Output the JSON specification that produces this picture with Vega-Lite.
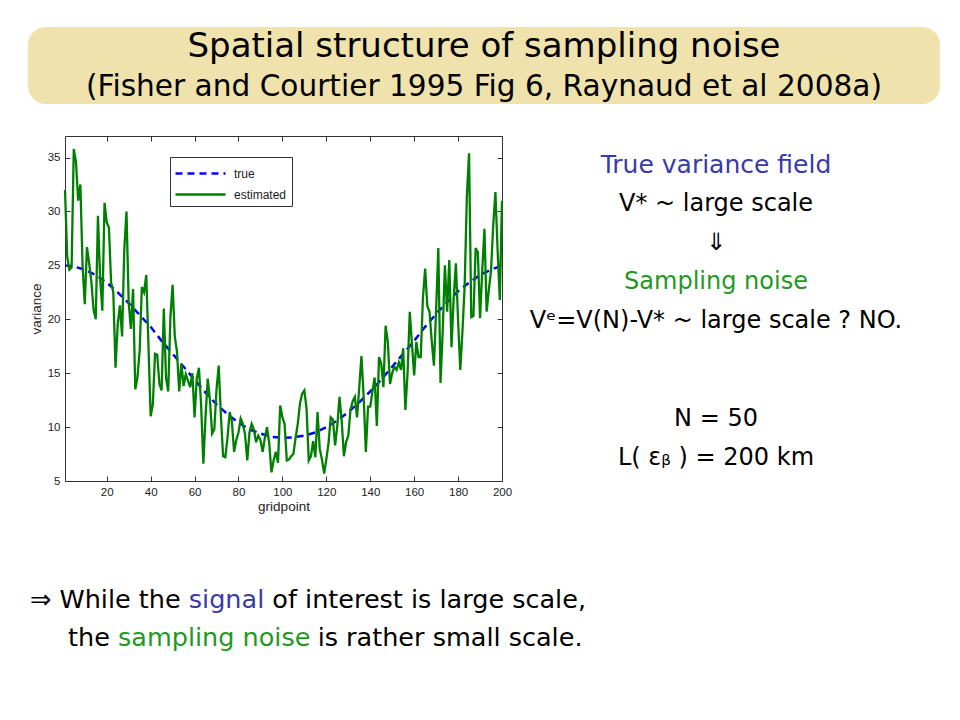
{
  "$schema": "https://vega.github.io/schema/vega-lite/v6.json",
  "background": "white",
  "padding": {"left": 28, "top": 27, "right": 0, "bottom": 0},
  "spacing": 31,
  "center": true,
  "config": {"view": {"stroke": null}},
  "resolve": {"scale": {"color": "independent", "strokeDash": "independent"}, "legend": {"color": "independent", "strokeDash": "independent"}},
  "datasets": {
    "tru": [
      {"g":1,"v":25.0,"s":"true"},{"g":5,"v":24.9,"s":"true"},{"g":10,"v":24.6,"s":"true"},{"g":15,"v":24.1,"s":"true"},
      {"g":20,"v":23.4,"s":"true"},{"g":25,"v":22.5,"s":"true"},{"g":30,"v":21.5,"s":"true"},{"g":35,"v":20.4,"s":"true"},
      {"g":40,"v":19.3,"s":"true"},{"g":45,"v":18.0,"s":"true"},{"g":50,"v":16.8,"s":"true"},{"g":55,"v":15.6,"s":"true"},
      {"g":60,"v":14.4,"s":"true"},{"g":65,"v":13.2,"s":"true"},{"g":70,"v":12.1,"s":"true"},{"g":75,"v":11.2,"s":"true"},
      {"g":80,"v":10.4,"s":"true"},{"g":85,"v":9.8,"s":"true"},{"g":90,"v":9.4,"s":"true"},{"g":95,"v":9.1,"s":"true"},
      {"g":100,"v":9.0,"s":"true"},{"g":105,"v":9.05,"s":"true"},{"g":110,"v":9.2,"s":"true"},{"g":115,"v":9.5,"s":"true"},
      {"g":120,"v":10.0,"s":"true"},{"g":125,"v":10.6,"s":"true"},{"g":130,"v":11.4,"s":"true"},{"g":135,"v":12.3,"s":"true"},
      {"g":140,"v":13.3,"s":"true"},{"g":145,"v":14.4,"s":"true"},{"g":150,"v":15.6,"s":"true"},{"g":155,"v":16.8,"s":"true"},
      {"g":160,"v":18.0,"s":"true"},{"g":165,"v":19.3,"s":"true"},{"g":170,"v":20.5,"s":"true"},{"g":175,"v":21.6,"s":"true"},
      {"g":180,"v":22.6,"s":"true"},{"g":185,"v":23.4,"s":"true"},{"g":190,"v":24.1,"s":"true"},{"g":195,"v":24.6,"s":"true"},
      {"g":200,"v":25.0,"s":"true"}
    ],
    "est": [
      {"g":1,"v":32.0,"s":"estimated"},{"g":2,"v":25.8,"s":"estimated"},{"g":3,"v":24.6,"s":"estimated"},{"g":4,"v":24.8,"s":"estimated"},{"g":5,"v":35.8,"s":"estimated"},
      {"g":6,"v":34.6,"s":"estimated"},{"g":7,"v":31.0,"s":"estimated"},{"g":8,"v":32.5,"s":"estimated"},{"g":9,"v":25.0,"s":"estimated"},{"g":10,"v":21.4,"s":"estimated"},
      {"g":11,"v":26.7,"s":"estimated"},{"g":12,"v":25.2,"s":"estimated"},{"g":13,"v":23.5,"s":"estimated"},{"g":14,"v":20.9,"s":"estimated"},{"g":15,"v":20.0,"s":"estimated"},
      {"g":16,"v":29.6,"s":"estimated"},{"g":17,"v":23.8,"s":"estimated"},{"g":18,"v":20.8,"s":"estimated"},{"g":19,"v":30.8,"s":"estimated"},{"g":20,"v":29.0,"s":"estimated"},
      {"g":21,"v":28.5,"s":"estimated"},{"g":22,"v":23.4,"s":"estimated"},{"g":23,"v":22.5,"s":"estimated"},{"g":24,"v":15.5,"s":"estimated"},{"g":25,"v":19.5,"s":"estimated"},
      {"g":26,"v":21.3,"s":"estimated"},{"g":27,"v":18.4,"s":"estimated"},{"g":28,"v":26.5,"s":"estimated"},{"g":29,"v":30.0,"s":"estimated"},{"g":30,"v":21.6,"s":"estimated"},
      {"g":31,"v":19.1,"s":"estimated"},{"g":32,"v":22.8,"s":"estimated"},{"g":33,"v":13.5,"s":"estimated"},{"g":34,"v":14.6,"s":"estimated"},{"g":35,"v":17.1,"s":"estimated"},
      {"g":36,"v":23.0,"s":"estimated"},{"g":37,"v":22.5,"s":"estimated"},{"g":38,"v":24.1,"s":"estimated"},{"g":39,"v":17.6,"s":"estimated"},{"g":40,"v":11.0,"s":"estimated"},
      {"g":41,"v":12.1,"s":"estimated"},{"g":42,"v":16.8,"s":"estimated"},{"g":43,"v":16.7,"s":"estimated"},{"g":44,"v":14.0,"s":"estimated"},{"g":45,"v":13.4,"s":"estimated"},
      {"g":46,"v":21.0,"s":"estimated"},{"g":47,"v":14.6,"s":"estimated"},{"g":48,"v":13.3,"s":"estimated"},{"g":49,"v":20.2,"s":"estimated"},{"g":50,"v":23.2,"s":"estimated"},
      {"g":51,"v":18.4,"s":"estimated"},{"g":52,"v":17.0,"s":"estimated"},{"g":53,"v":13.3,"s":"estimated"},{"g":54,"v":15.9,"s":"estimated"},{"g":55,"v":13.8,"s":"estimated"},
      {"g":56,"v":14.9,"s":"estimated"},{"g":57,"v":14.3,"s":"estimated"},{"g":58,"v":13.7,"s":"estimated"},{"g":59,"v":15.0,"s":"estimated"},{"g":60,"v":10.9,"s":"estimated"},
      {"g":61,"v":14.5,"s":"estimated"},{"g":62,"v":15.5,"s":"estimated"},{"g":63,"v":12.0,"s":"estimated"},{"g":64,"v":6.6,"s":"estimated"},{"g":65,"v":11.0,"s":"estimated"},
      {"g":66,"v":14.5,"s":"estimated"},{"g":67,"v":12.5,"s":"estimated"},{"g":68,"v":9.4,"s":"estimated"},{"g":69,"v":9.8,"s":"estimated"},{"g":70,"v":13.5,"s":"estimated"},
      {"g":71,"v":15.7,"s":"estimated"},{"g":72,"v":11.0,"s":"estimated"},{"g":73,"v":7.3,"s":"estimated"},{"g":74,"v":7.2,"s":"estimated"},{"g":75,"v":9.0,"s":"estimated"},
      {"g":76,"v":11.4,"s":"estimated"},{"g":77,"v":10.5,"s":"estimated"},{"g":78,"v":7.7,"s":"estimated"},{"g":79,"v":8.8,"s":"estimated"},{"g":80,"v":9.5,"s":"estimated"},
      {"g":81,"v":10.8,"s":"estimated"},{"g":82,"v":10.3,"s":"estimated"},{"g":83,"v":9.3,"s":"estimated"},{"g":84,"v":6.9,"s":"estimated"},{"g":85,"v":9.5,"s":"estimated"},
      {"g":86,"v":10.3,"s":"estimated"},{"g":87,"v":9.8,"s":"estimated"},{"g":88,"v":8.6,"s":"estimated"},{"g":89,"v":9.2,"s":"estimated"},{"g":90,"v":8.8,"s":"estimated"},
      {"g":91,"v":7.7,"s":"estimated"},{"g":92,"v":9.0,"s":"estimated"},{"g":93,"v":10.0,"s":"estimated"},{"g":94,"v":8.5,"s":"estimated"},{"g":95,"v":5.8,"s":"estimated"},
      {"g":96,"v":6.9,"s":"estimated"},{"g":97,"v":7.7,"s":"estimated"},{"g":98,"v":6.7,"s":"estimated"},{"g":99,"v":12.0,"s":"estimated"},{"g":100,"v":10.9,"s":"estimated"},
      {"g":101,"v":10.3,"s":"estimated"},{"g":102,"v":6.9,"s":"estimated"},{"g":103,"v":7.0,"s":"estimated"},{"g":104,"v":7.3,"s":"estimated"},{"g":105,"v":7.5,"s":"estimated"},
      {"g":106,"v":9.0,"s":"estimated"},{"g":107,"v":10.3,"s":"estimated"},{"g":108,"v":12.2,"s":"estimated"},{"g":109,"v":13.1,"s":"estimated"},{"g":110,"v":13.4,"s":"estimated"},
      {"g":111,"v":11.7,"s":"estimated"},{"g":112,"v":6.9,"s":"estimated"},{"g":113,"v":7.3,"s":"estimated"},{"g":114,"v":8.7,"s":"estimated"},{"g":115,"v":7.2,"s":"estimated"},
      {"g":116,"v":11.4,"s":"estimated"},{"g":117,"v":8.0,"s":"estimated"},{"g":118,"v":7.0,"s":"estimated"},{"g":119,"v":5.7,"s":"estimated"},{"g":120,"v":7.0,"s":"estimated"},
      {"g":121,"v":8.5,"s":"estimated"},{"g":122,"v":10.9,"s":"estimated"},{"g":123,"v":10.7,"s":"estimated"},{"g":124,"v":8.3,"s":"estimated"},{"g":125,"v":10.1,"s":"estimated"},
      {"g":126,"v":12.8,"s":"estimated"},{"g":127,"v":10.6,"s":"estimated"},{"g":128,"v":7.3,"s":"estimated"},{"g":129,"v":8.6,"s":"estimated"},{"g":130,"v":9.2,"s":"estimated"},
      {"g":131,"v":11.6,"s":"estimated"},{"g":132,"v":12.4,"s":"estimated"},{"g":133,"v":12.8,"s":"estimated"},{"g":134,"v":10.9,"s":"estimated"},{"g":135,"v":13.7,"s":"estimated"},
      {"g":136,"v":16.6,"s":"estimated"},{"g":137,"v":12.8,"s":"estimated"},{"g":138,"v":7.7,"s":"estimated"},{"g":139,"v":11.9,"s":"estimated"},{"g":140,"v":11.9,"s":"estimated"},
      {"g":141,"v":13.3,"s":"estimated"},{"g":142,"v":14.6,"s":"estimated"},{"g":143,"v":10.1,"s":"estimated"},{"g":144,"v":16.5,"s":"estimated"},{"g":145,"v":15.9,"s":"estimated"},
      {"g":146,"v":13.7,"s":"estimated"},{"g":147,"v":19.4,"s":"estimated"},{"g":148,"v":17.9,"s":"estimated"},{"g":149,"v":14.0,"s":"estimated"},{"g":150,"v":15.0,"s":"estimated"},
      {"g":151,"v":15.6,"s":"estimated"},{"g":152,"v":15.3,"s":"estimated"},{"g":153,"v":16.0,"s":"estimated"},{"g":154,"v":15.3,"s":"estimated"},{"g":155,"v":17.3,"s":"estimated"},
      {"g":156,"v":11.6,"s":"estimated"},{"g":157,"v":15.0,"s":"estimated"},{"g":158,"v":20.7,"s":"estimated"},{"g":159,"v":17.7,"s":"estimated"},{"g":160,"v":14.8,"s":"estimated"},
      {"g":161,"v":17.9,"s":"estimated"},{"g":162,"v":16.5,"s":"estimated"},{"g":163,"v":16.5,"s":"estimated"},{"g":164,"v":22.0,"s":"estimated"},{"g":165,"v":24.7,"s":"estimated"},
      {"g":166,"v":21.2,"s":"estimated"},{"g":167,"v":20.7,"s":"estimated"},{"g":168,"v":18.0,"s":"estimated"},{"g":169,"v":15.7,"s":"estimated"},{"g":170,"v":20.9,"s":"estimated"},
      {"g":171,"v":26.6,"s":"estimated"},{"g":172,"v":14.1,"s":"estimated"},{"g":173,"v":18.9,"s":"estimated"},{"g":174,"v":25.0,"s":"estimated"},{"g":175,"v":20.7,"s":"estimated"},
      {"g":176,"v":25.5,"s":"estimated"},{"g":177,"v":17.4,"s":"estimated"},{"g":178,"v":22.0,"s":"estimated"},{"g":179,"v":25.2,"s":"estimated"},{"g":180,"v":19.9,"s":"estimated"},
      {"g":181,"v":15.3,"s":"estimated"},{"g":182,"v":18.9,"s":"estimated"},{"g":183,"v":23.1,"s":"estimated"},{"g":184,"v":31.4,"s":"estimated"},{"g":185,"v":35.4,"s":"estimated"},
      {"g":186,"v":20.2,"s":"estimated"},{"g":187,"v":20.3,"s":"estimated"},{"g":188,"v":26.6,"s":"estimated"},{"g":189,"v":26.2,"s":"estimated"},{"g":190,"v":20.1,"s":"estimated"},
      {"g":191,"v":24.5,"s":"estimated"},{"g":192,"v":28.4,"s":"estimated"},{"g":193,"v":20.7,"s":"estimated"},{"g":194,"v":22.7,"s":"estimated"},{"g":195,"v":24.5,"s":"estimated"},
      {"g":196,"v":28.7,"s":"estimated"},{"g":197,"v":31.8,"s":"estimated"},{"g":198,"v":26.4,"s":"estimated"},{"g":199,"v":21.8,"s":"estimated"},{"g":200,"v":31.0,"s":"estimated"}
    ]
  },
  "vconcat": [
    {
      "width": 912,
      "height": 77,
      "view": {"fill": "#efe2ad", "stroke": null, "cornerRadius": 18},
      "data": {"values": [
        {"line": 0, "text": "Spatial structure of sampling noise", "kind": "main"},
        {"line": 1, "text": "(Fisher and Courtier 1995 Fig 6, Raynaud et al 2008a)", "kind": "sub"}
      ]},
      "mark": {"type": "text", "font": "DejaVu Sans", "baseline": "middle", "align": "center", "color": "#000000"},
      "encoding": {
        "y": {"field": "line", "type": "quantitative", "scale": {"domain": [0, 1], "range": [20, 60]}, "axis": null},
        "text": {"field": "text"},
        "size": {"field": "kind", "type": "nominal", "scale": {"domain": ["main", "sub"], "range": [34, 29.6]}, "legend": null}
      }
    },
    {
      "spacing": 16,
      "resolve": {"scale": {"color": "independent", "strokeDash": "independent"}, "legend": {"color": "independent", "strokeDash": "independent"}},
      "hconcat": [
        {
          "width": 437,
          "height": 345,
          "view": {"stroke": "#333333", "strokeWidth": 1},
          "layer": [
            {
              "data": {"name": "tru"},
              "mark": {"type": "line", "strokeWidth": 2.5},
              "encoding": {
                "x": {"field": "g", "type": "quantitative",
                      "scale": {"domain": [1, 200], "nice": false, "zero": false},
                      "axis": {"orient": "bottom", "values": [20,40,60,80,100,120,140,160,180,200], "grid": false, "domain": false,
                               "tickSize": -5, "tickColor": "#333333", "labelPadding": 10, "labelFlush": false,
                               "labelFont": "Liberation Sans", "labelFontSize": 11.5, "labelColor": "#222222",
                               "title": "gridpoint", "titleFont": "Liberation Sans", "titleFontSize": 13.5, "titleFontWeight": "normal", "titleColor": "#222222", "titlePadding": 2}},
                "y": {"field": "v", "type": "quantitative",
                      "scale": {"domain": [5, 37], "nice": false, "zero": false},
                      "axis": {"orient": "left", "values": [5,10,15,20,25,30,35], "grid": false, "domain": false,
                               "tickSize": -5, "tickColor": "#333333", "labelPadding": 10,
                               "labelFont": "Liberation Sans", "labelFontSize": 11.5, "labelColor": "#222222",
                               "title": "variance", "titleFont": "Liberation Sans", "titleFontSize": 13.5, "titleFontWeight": "normal", "titleColor": "#222222", "titlePadding": 4}},
                "color": {"field": "s", "type": "nominal",
                          "scale": {"domain": ["true", "estimated"], "range": ["#0000ff", "#008000"]},
                          "legend": {"title": null, "orient": "none", "legendX": 105, "legendY": 21,
                                     "fillColor": "white", "strokeColor": "#333333", "padding": 5,
                                     "symbolType": "M-2.5,0H2.5", "symbolSize": 400, "symbolStrokeWidth": 2.5, "symbolOffset": 14,
                                     "labelOffset": 22, "rowPadding": 3,
                                     "labelFont": "Liberation Sans", "labelFontSize": 12, "labelColor": "#222222"}},
                "strokeDash": {"field": "s", "type": "nominal",
                               "scale": {"domain": ["true", "estimated"], "range": [[7, 5], [1, 0]]},
                               "legend": {"title": null, "orient": "none", "legendX": 105, "legendY": 21,
                                     "fillColor": "white", "strokeColor": "#333333", "padding": 5,
                                     "symbolType": "M-2.5,0H2.5", "symbolSize": 400, "symbolStrokeWidth": 2.5, "symbolOffset": 14,
                                     "labelOffset": 22, "rowPadding": 3,
                                     "labelFont": "Liberation Sans", "labelFontSize": 12, "labelColor": "#222222"}}
              }
            },
            {
              "data": {"name": "est"},
              "mark": {"type": "line", "strokeWidth": 2.3},
              "encoding": {
                "x": {"field": "g", "type": "quantitative",
                      "scale": {"domain": [1, 200], "nice": false, "zero": false},
                      "axis": {"orient": "top", "values": [20,40,60,80,100,120,140,160,180,200], "grid": false, "domain": false,
                               "tickSize": -5, "tickColor": "#333333", "labels": false, "title": null}},
                "y": {"field": "v", "type": "quantitative",
                      "scale": {"domain": [5, 37], "nice": false, "zero": false},
                      "axis": {"orient": "right", "values": [5,10,15,20,25,30,35], "grid": false, "domain": false,
                               "tickSize": -5, "tickColor": "#333333", "labels": false, "title": null}},
                "color": {"field": "s", "type": "nominal",
                          "scale": {"domain": ["true", "estimated"], "range": ["#0000ff", "#008000"]}},
                "strokeDash": {"field": "s", "type": "nominal",
                               "scale": {"domain": ["true", "estimated"], "range": [[7, 5], [1, 0]]}}
              }
            }
          ],
          "resolve": {"axis": {"x": "independent", "y": "independent"}}
        },
        {
          "width": 374,
          "height": 345,
          "data": {"values": [
            {"line": 0, "text": "True variance field", "tone": "blue"},
            {"line": 1, "text": "V* ~ large scale", "tone": "black"},
            {"line": 2, "text": "⇓", "tone": "black"},
            {"line": 3, "text": "Sampling noise", "tone": "green"},
            {"line": 4, "text": "Vᵉ=V(N)-V* ~ large scale ? NO.", "tone": "black"},
            {"line": 6.5, "text": "N = 50", "tone": "black"},
            {"line": 7.5, "text": "L( εᵦ ) = 200 km", "tone": "black"}
          ]},
          "encoding": {
            "y": {"field": "line", "type": "quantitative", "scale": {"domain": [0, 4], "range": [29, 185]}, "axis": null},
            "text": {"field": "text"}
          },
          "layer": [
            {"transform": [{"filter": "datum.tone === 'black'"}],
             "mark": {"type": "text", "font": "DejaVu Sans", "fontSize": 24, "baseline": "middle", "align": "center", "color": "#000000"}},
            {"transform": [{"filter": "datum.tone === 'blue'"}],
             "mark": {"type": "text", "font": "DejaVu Sans", "fontSize": 25, "baseline": "middle", "align": "center", "color": "#3a3aa8"}},
            {"transform": [{"filter": "datum.tone === 'green'"}],
             "mark": {"type": "text", "font": "DejaVu Sans", "fontSize": 24, "baseline": "middle", "align": "center", "color": "#1f991f"}}
          ]
        }
      ]
    },
    {
      "width": 912,
      "height": 110,
      "data": {"values": [
        {"line": 1, "text": "⇒ While the", "part": "head", "tone": "black"},
        {"line": 1, "text": "signal", "part": "word", "tone": "blue"},
        {"line": 1, "text": "of interest is large scale,", "part": "tail", "tone": "black"},
        {"line": 2, "text": "the", "part": "head", "tone": "black"},
        {"line": 2, "text": "sampling noise", "part": "word", "tone": "green"},
        {"line": 2, "text": "is rather small scale.", "part": "tail", "tone": "black"}
      ]},
      "encoding": {
        "y": {"field": "line", "type": "quantitative", "scale": {"domain": [1, 2], "range": [55, 93]}, "axis": null},
        "text": {"field": "text"}
      },
      "layer": [
        {"transform": [{"filter": "datum.part === 'head'"}],
         "mark": {"type": "text", "font": "DejaVu Sans", "fontSize": 25.5, "baseline": "middle", "align": "left", "color": "#000000"},
         "encoding": {"x": {"field": "line", "type": "quantitative", "scale": {"domain": [1, 2], "range": [2, 40]}, "axis": null}}},
        {"transform": [{"filter": "datum.part === 'word' && datum.tone === 'blue'"}],
         "mark": {"type": "text", "font": "DejaVu Sans", "fontSize": 25.5, "baseline": "middle", "align": "left", "color": "#3a3aa8"},
         "encoding": {"x": {"field": "line", "type": "quantitative", "scale": {"domain": [1, 2], "range": [160.8, 90]}, "axis": null}}},
        {"transform": [{"filter": "datum.part === 'word' && datum.tone === 'green'"}],
         "mark": {"type": "text", "font": "DejaVu Sans", "fontSize": 25.5, "baseline": "middle", "align": "left", "color": "#1f991f"},
         "encoding": {"x": {"field": "line", "type": "quantitative", "scale": {"domain": [1, 2], "range": [160.8, 90]}, "axis": null}}},
        {"transform": [{"filter": "datum.part === 'tail'"}],
         "mark": {"type": "text", "font": "DejaVu Sans", "fontSize": 25.5, "baseline": "middle", "align": "right", "color": "#000000"},
         "encoding": {"x": {"field": "line", "type": "quantitative", "scale": {"domain": [1, 2], "range": [558, 554.5]}, "axis": null}}}
      ],
      "resolve": {"scale": {"x": "independent"}}
    }
  ]
}
